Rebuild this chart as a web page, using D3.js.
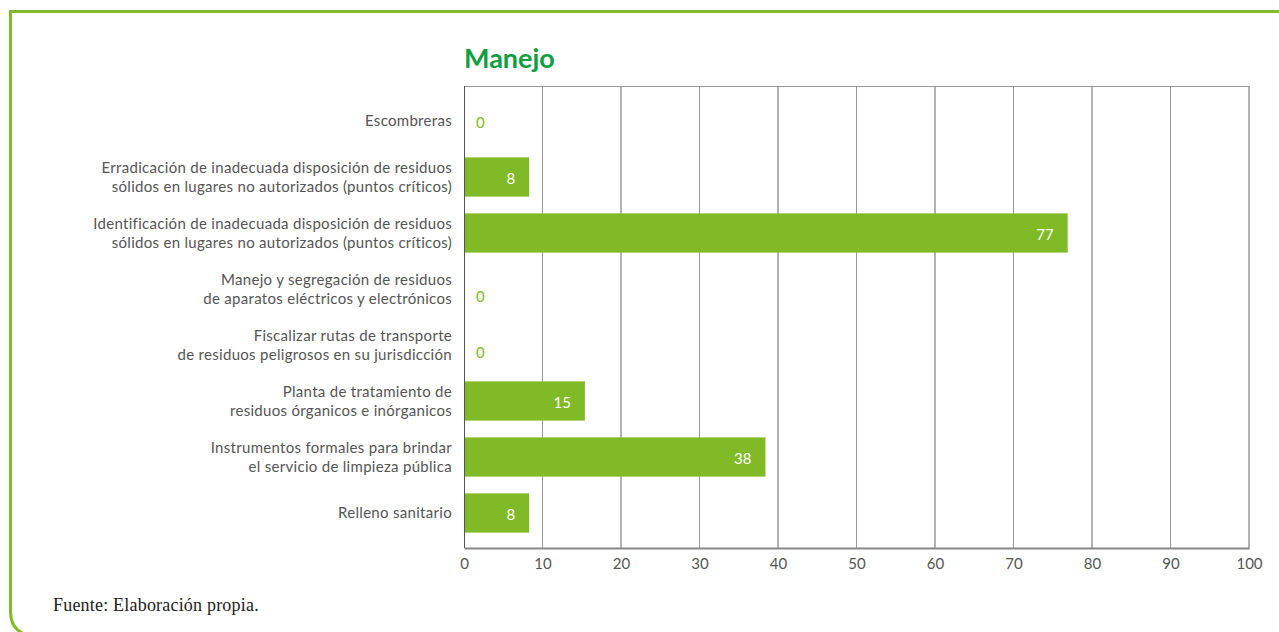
<!DOCTYPE html>
<html lang="es">
<head>
<meta charset="utf-8">
<title>Manejo</title>
<script src="https://cdn.jsdelivr.net/npm/d3@7"></script>
<style>
  html, body { margin: 0; padding: 0; background: #fff; }
  svg { display: block; font-family: "Lato", "Open Sans", sans-serif; }
  .cat { fill: #555; font-size: 15px; letter-spacing: 0.3px; }
  .tick text { fill: #555; font-size: 15px; }
  .val { font-size: 15px; }
  .src { font-family: "Liberation Serif", "DejaVu Serif", serif; font-size: 18px; letter-spacing: 0.2px; fill: #222; }
</style>
</head>
<body>
<svg id="chart" width="1279" height="632"></svg>
<script>
// categories (each label split into its lines)
var categories = [
  ["Escombreras"],
  ["Erradicación de inadecuada disposición de residuos", "sólidos en lugares no autorizados (puntos críticos)"],
  ["Identificación de inadecuada disposición de residuos", "sólidos en lugares no autorizados (puntos críticos)"],
  ["Manejo y segregación de residuos", "de aparatos eléctricos y electrónicos"],
  ["Fiscalizar rutas de transporte", "de residuos peligrosos en su jurisdicción"],
  ["Planta de tratamiento de", "residuos órganicos e inórganicos"],
  ["Instrumentos formales para brindar", "el servicio de limpieza pública"],
  ["Relleno sanitario"]
];
// bar lengths; labels show them rounded
var values = [0, 8.3, 76.9, 0, 0, 15.4, 38.4, 8.3];
var xTicks = [0, 10, 20, 30, 40, 50, 60, 70, 80, 90, 100];

var green = "#80ba27";
var fmt = d3.format(".0f");
var svg = d3.select("#chart");

// frame
svg.append("path")
  .attr("d", "M1279,11.5 L10.5,11.5 L10.5,612 Q10.5,628 24,634")
  .attr("fill", "none")
  .attr("stroke", green)
  .attr("stroke-width", 3);

var pLeft = 464, pRight = 1249, pTop = 86, pBottom = 548;

var x = d3.scaleLinear().domain([0, 100]).range([pLeft, pRight]);
var y = d3.scaleBand()
  .domain(d3.range(categories.length))
  .range([pTop, pBottom])
  .paddingInner(0.3)
  .paddingOuter(0.275);

// title
svg.append("text")
  .attr("x", pLeft)
  .attr("y", 68)
  .attr("fill", "#0f9f3f")
  .attr("font-size", 27)
  .attr("font-weight", "bold")
  .text("Manejo");

// grid
svg.append("g").selectAll("line")
  .data(xTicks.slice(1))
  .join("line")
  .attr("x1", d => x(d)).attr("x2", d => x(d))
  .attr("y1", pTop).attr("y2", pBottom)
  .attr("stroke", (d, i) => i % 2 ? "#666" : "#999")
  .attr("stroke-width", 1);

svg.append("line")
  .attr("x1", pLeft).attr("x2", pRight)
  .attr("y1", pTop + 0.5).attr("y2", pTop + 0.5)
  .attr("stroke", "#999");

// bars
svg.append("g").selectAll("rect")
  .data(values)
  .join("rect")
  .attr("x", x(0))
  .attr("y", (d, i) => y(i))
  .attr("width", d => x(d) - x(0))
  .attr("height", y.bandwidth())
  .attr("fill", green);

// value labels
svg.append("g").selectAll("text")
  .data(values)
  .join("text")
  .attr("class", "val")
  .attr("x", d => d === 0 ? x(0) + 12 : x(d) - 14)
  .attr("y", (d, i) => y(i) + y.bandwidth() / 2 + (d === 0 && categories[i].length > 1 ? 8 : 2))
  .attr("dy", "0.35em")
  .attr("text-anchor", d => d === 0 ? "start" : "end")
  .attr("fill", d => d === 0 ? green : "#fff")
  .text(d => fmt(d));

// left axis line
svg.append("line")
  .attr("x1", pLeft + 0.5).attr("x2", pLeft + 0.5)
  .attr("y1", pTop).attr("y2", pBottom)
  .attr("stroke", "#555");

// category labels
var cat = svg.append("g").selectAll("text")
  .data(categories)
  .join("text")
  .attr("class", "cat")
  .attr("text-anchor", "end")
  .attr("y", (d, i) => y(i) + y.bandwidth() / 2 - (d.length - 1) * 9.5 + 5);
cat.selectAll("tspan")
  .data(d => d)
  .join("tspan")
  .attr("x", 452)
  .attr("dy", (d, j) => j ? 19 : 0)
  .text(d => d);

// x axis
var xAxis = svg.append("g")
  .attr("transform", "translate(0," + pBottom + ")")
  .call(d3.axisBottom(x).tickValues(xTicks).tickSize(0).tickPadding(10));
xAxis.select(".domain").attr("stroke", "#888").attr("stroke-width", 2);
xAxis.selectAll(".tick text").attr("font-family", "Lato, sans-serif");

// source
svg.append("text")
  .attr("class", "src")
  .attr("x", 53)
  .attr("y", 611)
  .text("Fuente: Elaboración propia.");
</script>
</body>
</html>
